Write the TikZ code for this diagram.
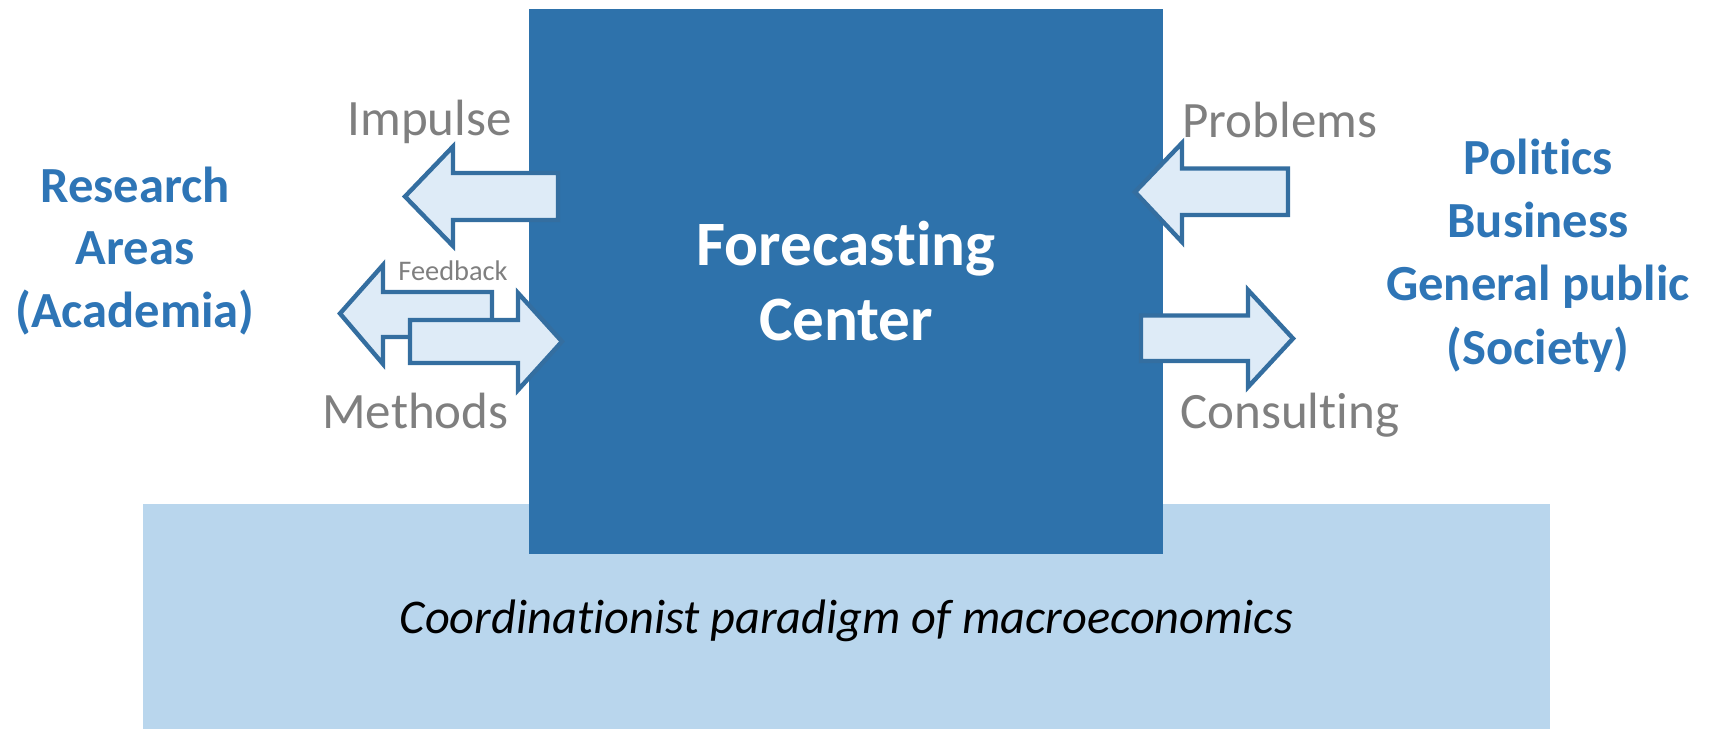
\documentclass[tikz,border=0pt]{standalone}
\usepackage{fontspec}
\setmainfont{Carlito}[RawFeature={-liga;-clig;-calt}]
\definecolor{centerblue}{RGB}{46,114,171}
\definecolor{paradigmblue}{RGB}{185,214,237}
\definecolor{arrowfill}{RGB}{222,235,247}
\definecolor{arrowline}{RGB}{52,110,160}
\definecolor{labelblue}{RGB}{46,117,182}
\definecolor{flowgray}{RGB}{127,127,127}
\tikzset{
  blockarrow/.style={draw=arrowline, fill=arrowfill, line width=2.2pt, line join=miter},
  flowlabel/.style={text=flowgray, font=\fontsize{25.5}{30}\selectfont, inner sep=0pt},
  sidelabel/.style={text=labelblue, font=\bfseries\fontsize{25.3}{31.3}\selectfont, align=center, inner sep=0pt},
}

\begin{document}
\begin{tikzpicture}[x=0.5pt, y=-0.5pt]
        \useasboundingbox (0,0) rectangle (1716,729);

        % boxes
        \node[fill=paradigmblue, minimum width=703.5pt, minimum height=112.5pt, inner sep=0pt,
              text height=22pt, text depth=5pt,
              font=\itshape\fontsize{24.2}{29}\selectfont] (paradigm) at (846.5,616.5)
              {Coordinationist paradigm of macroeconomics};
        \node[fill=centerblue, minimum width=317pt, minimum height=272.4pt, inner sep=0pt, text=white,
              align=center, font=\bfseries\fontsize{31.6}{37.5}\selectfont] (fc) at (846,281.5)
              {Forecasting\\Center};

        % left arrows
        \draw [blockarrow] (558,173) -- (453,173) -- (453,146.5) -- (405,196.5) -- (453,246) -- (453,220) -- (558,220) -- cycle;
        \draw [blockarrow] (492,292) -- (383,292) -- (383,265) -- (340,313.5) -- (383,364) -- (383,337) -- (492,337) -- cycle;
        \draw [blockarrow] (410,320) -- (518,320) -- (518,293) -- (562,341.5) -- (518,390) -- (518,363) -- (410,363) -- cycle;

        % right arrows
        \draw [blockarrow] (1288,168.5) -- (1182,168.5) -- (1182,143) -- (1135,192) -- (1182,242) -- (1182,215) -- (1288,215) -- cycle;
        \draw [blockarrow] (1141,315.5) -- (1248,315.5) -- (1248,290) -- (1293,338.5) -- (1248,387) -- (1248,361) -- (1141,361) -- cycle;

        % labels
        \node[flowlabel, anchor=base east] (impulse) at (512,135) {Impulse};
        \node[flowlabel, font=\fontsize{14.2}{17}\selectfont, anchor=base] (feedback) at (453,280) {Feedback};
        \node[flowlabel, anchor=base east] (methods) at (509,428) {Methods};
        \node[flowlabel, anchor=base west] (problems) at (1182,137) {Problems};
        \node[flowlabel, anchor=base west] (consulting) at (1180,428) {Consulting};

        \node[sidelabel] (research) at (135,251) {Research\\Areas\\(Academia)};
        \node[sidelabel, font=\bfseries\fontsize{25.3}{31.6}\selectfont] (society) at (1538,255.5)
              {Politics\\Business\\General public\\(Society)};
      \end{tikzpicture}
\end{document}
